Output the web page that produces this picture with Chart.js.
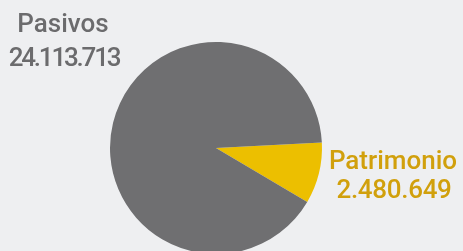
<!DOCTYPE html>
<html>
<head>
<meta charset="utf-8">
<script src="https://cdn.jsdelivr.net/npm/chart.js@4/dist/chart.umd.min.js"></script>
<style>
  html, body { margin: 0; padding: 0; background: #eeeff1; overflow: hidden; }
  #wrap { width: 463px; height: 251px; overflow: hidden; position: relative; }
  canvas { display: block; }
</style>
</head>
<body>
<div id="wrap"><canvas id="c" width="463" height="260"></canvas></div>
<script>
const categories = ["Patrimonio", "Pasivos"];
const values = [2480649, 24113713];
const valueLabels = ["2.480.649", "24.113.713"];
const sliceColors = ["#ecbf00", "#6f6f71"];
const textColors = ["#d1a00c", "#6b6b6d"];

const labelPlugin = {
  id: 'sliceLabels',
  afterDraw(chart) {
    const ctx = chart.ctx;
    ctx.save();
    ctx.textAlign = 'center';
    ctx.textBaseline = 'alphabetic';
    ctx.font = '500 26px Roboto, "Open Sans", sans-serif';
    // Pasivos (index 1) top-left
    ctx.fillStyle = textColors[1];
    ctx.fillText(categories[1], 63, 32);
    ctx.letterSpacing = '-2.2px';
    ctx.fillText(valueLabels[1], 64, 66);
    ctx.letterSpacing = '0px';
    // Patrimonio (index 0) right
    ctx.fillStyle = textColors[0];
    ctx.fillText(categories[0], 393, 169);
    ctx.letterSpacing = '-0.3px';
    ctx.fillText(valueLabels[0], 394, 198);
    ctx.restore();
  }
};

new Chart(document.getElementById('c'), {
  type: 'pie',
  data: {
    labels: categories,
    datasets: [{
      data: values,
      backgroundColor: sliceColors,
      borderWidth: 0
    }]
  },
  options: {
    responsive: false,
    animation: false,
    rotation: 87,
    layout: { padding: { left: 110, right: 141, top: 42, bottom: 6 } },
    plugins: { legend: { display: false }, tooltip: { enabled: false } }
  },
  plugins: [labelPlugin]
});
</script>
</body>
</html>
